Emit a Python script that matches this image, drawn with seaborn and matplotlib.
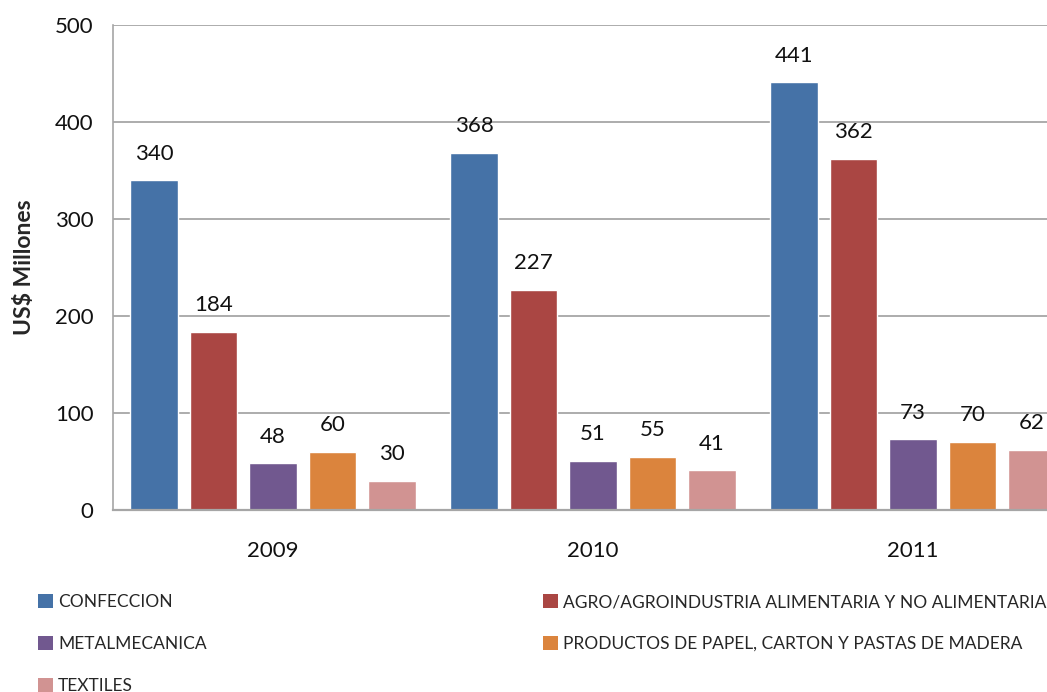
import matplotlib
matplotlib.use("Agg")
import matplotlib.pyplot as plt
import seaborn as sns
import pandas as pd
from matplotlib.patches import Patch

years = ["2009", "2010", "2011"]
sectors = [
    "CONFECCION",
    "AGRO/AGROINDUSTRIA ALIMENTARIA Y NO ALIMENTARIA",
    "METALMECANICA",
    "PRODUCTOS DE PAPEL, CARTON Y PASTAS DE MADERA",
    "TEXTILES",
]
confeccion = [340, 368, 441]
agro = [184, 227, 362]
metalmecanica = [48, 51, 73]
papel = [60, 55, 70]
textiles = [30, 41, 62]
colors = ["#4572A7", "#AA4643", "#71588F", "#DB843D", "#D19392"]

series = [confeccion, agro, metalmecanica, papel, textiles]
rows = []
for s, vals in zip(sectors, series):
    for y, v in zip(years, vals):
        rows.append({"year": y, "sector": s, "value": v})
df = pd.DataFrame(rows)

sns.set_style("white")
plt.rcParams["font.family"] = ["Lato", "DejaVu Sans"]

fig = plt.figure(figsize=(10.47, 6.92), dpi=100)
ax = fig.add_axes([113 / 1047, 1 - 510 / 692, 960 / 1047, 485 / 692])

sns.barplot(data=df, x="year", y="value", hue="sector", hue_order=sectors,
            palette=colors, width=0.93, gap=0.2, saturation=1, ax=ax,
            legend=False, errorbar=None)

for cont in ax.containers:
    ax.bar_label(cont, padding=12, fontsize=16, color="#111111")

ax.set_ylim(0, 500)
ax.set_xlim(-0.5, 2.5)
ax.set_yticks(range(0, 501, 100))
ax.yaxis.grid(True, color="#A6A6A6", linewidth=1.3)
ax.set_axisbelow(True)
for side in ["top", "right"]:
    ax.spines[side].set_visible(False)
ax.spines["left"].set_color("#A6A6A6")
ax.spines["bottom"].set_color("#A6A6A6")
ax.spines["left"].set_linewidth(1.2)
ax.spines["bottom"].set_linewidth(1.6)
ax.tick_params(axis="y", length=4, color="#A6A6A6", labelsize=16, pad=10,
               labelcolor="#111111")
ax.tick_params(axis="x", length=0, labelsize=16, pad=22, labelcolor="#111111")
ax.set_xlabel("")
ax.set_ylabel("US$ Millones", fontsize=16.5, fontweight="bold", labelpad=14)

handles = [Patch(facecolor=c, edgecolor="none") for c in colors]
kw = dict(frameon=False, fontsize=12.5, handlelength=0.85, handleheight=0.85,
          handletextpad=0.3, labelspacing=1.5, loc="upper left", borderpad=0,
          borderaxespad=0)
leg1 = fig.legend([handles[i] for i in (0, 2, 4)], [sectors[i] for i in (0, 2, 4)],
                  bbox_to_anchor=(38 / 1047, 1 - 594 / 692), **kw)
leg2 = fig.legend([handles[i] for i in (1, 3)], [sectors[i] for i in (1, 3)],
                  bbox_to_anchor=(543 / 1047, 1 - 594 / 692), **kw)

fig.savefig("out.png", dpi=100)
